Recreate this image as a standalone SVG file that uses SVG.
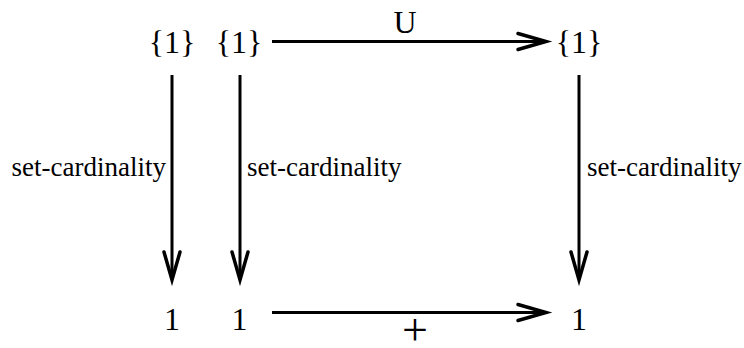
<svg xmlns="http://www.w3.org/2000/svg" width="744" height="348" viewBox="0 0 744 348">
<style>
text{font-family:"Liberation Serif","Times New Roman",serif;fill:#000}
.n{font-size:32px;text-anchor:middle}
.l{font-size:27px}
.c line{stroke:#000;stroke-width:3}
.c path{fill:none;stroke:#000;stroke-width:3.5;stroke-linecap:round;stroke-linejoin:miter}
</style>
<rect width="744" height="348" fill="#fff"/>
<g id="n1"><text class="n" x="172" y="53">{1}</text></g>
<g id="n2"><text class="n" x="239" y="53">{1}</text></g>
<g id="n3"><text class="n" x="579" y="53">{1}</text></g>
<g id="n4"><text class="n" x="172" y="330">1</text></g>
<g id="n5"><text class="n" x="239.5" y="330">1</text></g>
<g id="n6"><text class="n" x="579" y="330">1</text></g>
<g class="c" id="connectors">
<line x1="272" y1="41.5" x2="545" y2="41.5"/>
<path d="M518 33.5 L546 41.5 L518 49.5"/>
<line x1="272" y1="312.5" x2="545" y2="312.5"/>
<path d="M518 304.5 L546 312.5 L518 320.5"/>
<line x1="172" y1="75" x2="172" y2="278"/>
<path d="M164 252 L172 280 L180 252"/>
<line x1="240" y1="75" x2="240" y2="278"/>
<path d="M232 252 L240 280 L248 252"/>
<line x1="579" y1="75" x2="579" y2="278"/>
<path d="M571 252 L579 280 L587 252"/>
</g>
<g id="labels">
<text class="n" x="405" y="33" style="font-size:32px">U</text>
<text class="n" x="415" y="345" style="font-size:46px">+</text>
<text class="l" x="166" y="176" text-anchor="end">set-cardinality</text>
<text class="l" x="247" y="176">set-cardinality</text>
<text class="l" x="587" y="176">set-cardinality</text>
</g>
</svg>
